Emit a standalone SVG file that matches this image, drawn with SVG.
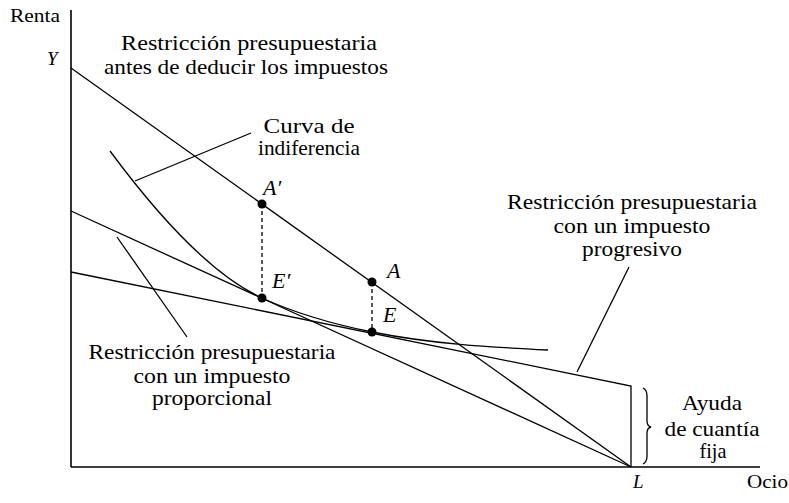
<svg xmlns="http://www.w3.org/2000/svg" width="789" height="503" viewBox="0 0 789 503">
<style>
.t{font-family:"Liberation Serif","Times New Roman",serif;font-size:22px;fill:#000}
.s{font-size:19px}
.c{text-anchor:middle}
.i{font-style:italic}
.ln{stroke:#000;stroke-width:1.3;fill:none}
.ax{stroke:#000;stroke-width:1.6;fill:none}
.d{stroke:#000;stroke-width:1.3;stroke-dasharray:4 3;fill:none}
.pt{fill:#000}
</style>
<rect width="789" height="503" fill="#fff"/>
<g id="axes">
<line class="ax" x1="71" y1="10" x2="71" y2="467"/>
<line class="ax" x1="71" y1="467" x2="760" y2="467"/>
<text class="t s" x="10" y="22" textLength="50" lengthAdjust="spacingAndGlyphs">Renta</text>
<text class="t s" x="747" y="488" textLength="41" lengthAdjust="spacingAndGlyphs">Ocio</text>
<text class="t s i" x="47" y="65">Y</text>
<text class="t s i" x="633" y="488">L</text>
</g>
<g id="budget-lines">
<line class="ln" x1="71" y1="68" x2="631" y2="467"/>
<line class="ln" x1="71" y1="211" x2="631" y2="467"/>
<polyline class="ln" points="71,272 631,386 631,467"/>
</g>
<g id="indifference-curve">
<path class="ln" d="M110,151 C140,191.5 202,270.5 262,298 C299,315 335,324.5 372,332 C432,344 488,347 548,350"/>
</g>
<g id="points">
<line class="d" x1="262" y1="204" x2="262" y2="298"/>
<line class="d" x1="372" y1="282" x2="372" y2="332"/>
<circle class="pt" cx="262" cy="204" r="4.5"/>
<circle class="pt" cx="262" cy="298" r="4.5"/>
<circle class="pt" cx="372" cy="282" r="4.5"/>
<circle class="pt" cx="372" cy="332" r="4.5"/>
<text class="t i" x="263" y="195">A′</text>
<text class="t i" x="272" y="288">E′</text>
<text class="t i" x="387" y="278">A</text>
<text class="t i" x="383" y="322">E</text>
</g>
<g id="connectors">
<line class="ln" x1="135" y1="181" x2="251" y2="133"/>
<line class="ln" x1="117" y1="237" x2="187" y2="337"/>
<line class="ln" x1="577" y1="372" x2="629" y2="267"/>
</g>
<g id="label-before-tax">
<text class="t c" x="249" y="50" textLength="256" lengthAdjust="spacingAndGlyphs">Restricción presupuestaria</text>
<text class="t c" x="246" y="74" textLength="284" lengthAdjust="spacingAndGlyphs">antes de deducir los impuestos</text>
</g>
<g id="label-indifference">
<text class="t c" x="309" y="133" textLength="91" lengthAdjust="spacingAndGlyphs">Curva de</text>
<text class="t c" x="309" y="155" textLength="102" lengthAdjust="spacingAndGlyphs">indiferencia</text>
</g>
<g id="label-proportional">
<text class="t c" x="212" y="359" textLength="247" lengthAdjust="spacingAndGlyphs">Restricción presupuestaria</text>
<text class="t c" x="212" y="383" textLength="157" lengthAdjust="spacingAndGlyphs">con un impuesto</text>
<text class="t c" x="212" y="405" textLength="120" lengthAdjust="spacingAndGlyphs">proporcional</text>
</g>
<g id="label-progressive">
<text class="t c" x="632" y="209" textLength="250" lengthAdjust="spacingAndGlyphs">Restricción presupuestaria</text>
<text class="t c" x="632" y="233" textLength="157" lengthAdjust="spacingAndGlyphs">con un impuesto</text>
<text class="t c" x="632" y="256" textLength="100" lengthAdjust="spacingAndGlyphs">progresivo</text>
</g>
<g id="label-lump-sum">
<path class="ln" d="M643,388 Q647,390 647,396 L647,421 Q647,426 651,427 Q647,428 647,433 L647,456 Q647,462 643,464"/>
<text class="t c" x="712" y="410" textLength="60" lengthAdjust="spacingAndGlyphs">Ayuda</text>
<text class="t c" x="712" y="436" textLength="95" lengthAdjust="spacingAndGlyphs">de cuantía</text>
<text class="t c" x="713" y="458" textLength="27" lengthAdjust="spacingAndGlyphs">fija</text>
</g>
</svg>
